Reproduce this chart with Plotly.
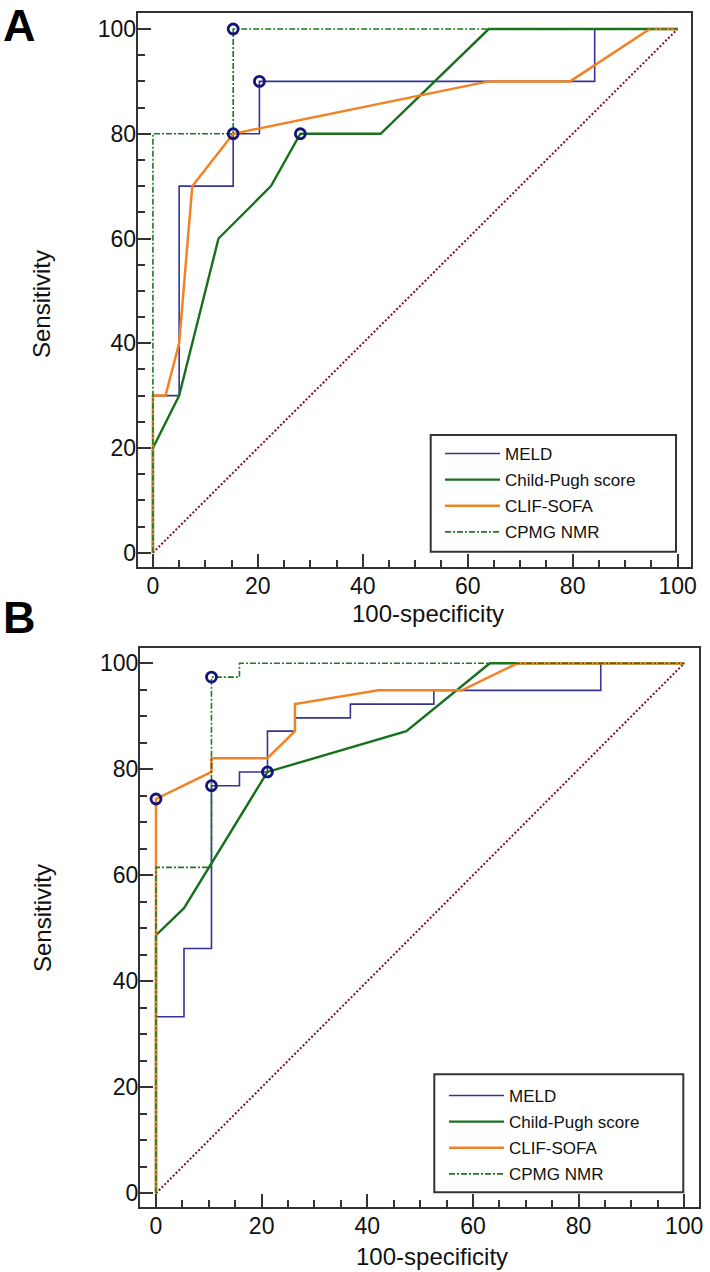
import plotly.graph_objects as go

W, H = 710, 1272

# ---------------- data (x = 100-specificity, y = sensitivity) ----------------
series_names = ["MELD", "Child-Pugh score", "CLIF-SOFA", "CPMG NMR"]

# Panel A
A_meld_x = [0, 0, 5.0, 15.3, 20.3, 84.2, 100]
A_meld_y = [0, 30, 70, 80, 90, 100, 100]
A_cp_x = [0, 0, 5.0, 12.5, 22.5, 28.1, 43.4, 64.0, 100]
A_cp_y = [0, 20, 30, 60, 70, 80, 80, 100, 100]
A_clif_x = [0, 0, 2.4, 5.0, 7.5, 15.3, 64.0, 79.5, 94.7, 100]
A_clif_y = [0, 30, 30, 40, 70, 80, 90, 90, 100, 100]
A_nmr_x = [0, 0, 15.3, 100]
A_nmr_y = [0, 80, 100, 100]
A_cut_x = [20.3, 28.1, 15.3, 15.3]   # optimal criterion points: MELD, CP, CLIF, NMR
A_cut_y = [90, 80, 80, 100]

# Panel B
B_meld_x = [0, 0, 5.3, 10.5, 15.8, 21.1, 26.3, 36.8, 52.6, 84.2, 100]
B_meld_y = [0, 33.3, 46.2, 76.9, 79.5, 87.2, 89.7, 92.3, 94.9, 100, 100]
B_cp_x = [0, 0, 5.3, 21.1, 47.4, 63.2, 100]
B_cp_y = [0, 48.7, 53.8, 79.5, 87.2, 100, 100]
B_clif_x = [0, 0, 10.5, 10.5, 21.1, 26.3, 26.3, 42.1, 57.9, 68.4, 100]
B_clif_y = [0, 74.4, 79.5, 82.1, 82.1, 87.2, 92.3, 94.9, 94.9, 100, 100]
B_nmr_x = [0, 0, 10.5, 15.8, 100]
B_nmr_y = [0, 61.5, 97.4, 100, 100]
B_cut_x = [10.5, 21.1, 0, 10.5]
B_cut_y = [76.9, 79.5, 74.4, 97.4]

ref_x = [0, 100]
ref_y = [0, 100]

tick_vals = [0, 20, 40, 60, 80, 100]
tick_text = ["0", "20", "40", "60", "80", "100"]

# ---------------- styles ----------------
FONT = "Arial, 'Liberation Sans', sans-serif"
C_MELD = "#343494"
C_CP = "#17701c"
C_CLIF = "#f28224"
C_NMR = "#1d7a1d"
C_MARK = "#14147a"
C_REF = "#7a1424"
AX = "#333333"

fig = go.Figure()


def add_panel(xa, ya, legend, mx, my, cx, cy, lx, ly, nx, ny, kx, ky):
    fig.add_trace(go.Scatter(x=ref_x, y=ref_y, mode="lines", xaxis=xa, yaxis=ya,
                             line=dict(color=C_REF, width=2, dash="2px,2px"),
                             showlegend=False, hoverinfo="skip"))
    fig.add_trace(go.Scatter(x=mx, y=my, mode="lines", name=series_names[0], xaxis=xa, yaxis=ya,
                             line=dict(color=C_MELD, width=1.6, shape="hv"), legend=legend,
                             legendgroup=legend + "a"))
    fig.add_trace(go.Scatter(x=cx, y=cy, mode="lines", name=series_names[1], xaxis=xa, yaxis=ya,
                             line=dict(color=C_CP, width=2.4), legend=legend,
                             legendgroup=legend + "b"))
    fig.add_trace(go.Scatter(x=lx, y=ly, mode="lines", name=series_names[2], xaxis=xa, yaxis=ya,
                             line=dict(color=C_CLIF, width=2.5), legend=legend,
                             legendgroup=legend + "c"))
    fig.add_trace(go.Scatter(x=nx, y=ny, mode="lines", name=series_names[3], xaxis=xa, yaxis=ya,
                             line=dict(color=C_NMR, width=1.6, shape="hv", dash="6px,2px,2px,2px"),
                             legend=legend, legendgroup=legend + "d"))
    fig.add_trace(go.Scatter(x=kx, y=ky, mode="markers", xaxis=xa, yaxis=ya,
                             marker=dict(symbol="circle-open", size=10, color=C_MARK,
                                         line=dict(color=C_MARK, width=2.8)),
                             showlegend=False, hoverinfo="skip"))


add_panel("x", "y", "legend", A_meld_x, A_meld_y, A_cp_x, A_cp_y, A_clif_x, A_clif_y,
          A_nmr_x, A_nmr_y, A_cut_x, A_cut_y)
add_panel("x2", "y2", "legend2", B_meld_x, B_meld_y, B_cp_x, B_cp_y, B_clif_x, B_clif_y,
          B_nmr_x, B_nmr_y, B_cut_x, B_cut_y)


def px_x(p):
    return p / W


def px_y(p):
    return 1 - p / H


def axis(rng, dom, anchor, standoff):
    return dict(range=rng, domain=dom, anchor=anchor, tickmode="array", tickvals=tick_vals,
                ticktext=tick_text, ticks="inside", ticklen=13, tickwidth=2, tickcolor=AX,
                minor=dict(dtick=5, tick0=0, ticks="inside", ticklen=7, tickwidth=2, tickcolor=AX),
                showgrid=False, zeroline=False, showline=True, linewidth=2, linecolor=AX,
                mirror=True, tickfont=dict(family=FONT, size=23, color="#111111"),
                automargin=False, ticklabelstandoff=standoff, fixedrange=True)


LEG_FONT = dict(family=FONT, size=17, color="#111111")
TITLE_FONT = dict(family=FONT, size=24, color="#111111")
PANEL_FONT = dict(family=FONT, size=45, color="black")

layout = dict(
    width=W, height=H, margin=dict(l=0, r=0, t=0, b=0, autoexpand=False),
    paper_bgcolor="white", plot_bgcolor="white",
    font=dict(family=FONT, color="#111111"),
    xaxis=axis([-2.9, 102.5], [px_x(137.7), px_x(690.7)], "y", -2),
    yaxis=axis([-2.67, 103.06], [px_y(566.7), px_y(13)], "x", -5),
    xaxis2=axis([-3.03, 102.8], [px_x(140), px_x(699)], "y2", -2),
    yaxis2=axis([-2.53, 102.83], [px_y(1206.7), px_y(648.3)], "x2", -5),
    legend=dict(x=px_x(440), y=px_y(436), xanchor="left", yanchor="top",
                bgcolor="rgba(0,0,0,0)", borderwidth=0, tracegroupgap=1, itemwidth=55,
                font=LEG_FONT),
    legend2=dict(x=px_x(444), y=px_y(1078), xanchor="left", yanchor="top",
                 bgcolor="rgba(0,0,0,0)", borderwidth=0, tracegroupgap=1, itemwidth=55,
                 font=LEG_FONT),
    shapes=[
        dict(type="rect", xref="paper", yref="paper", x0=px_x(430.7), x1=px_x(676),
             y0=px_y(551.7), y1=px_y(435), line=dict(color=AX, width=2), fillcolor="rgba(0,0,0,0)",
             layer="below"),
        dict(type="rect", xref="paper", yref="paper", x0=px_x(434.3), x1=px_x(683.3),
             y0=px_y(1192.3), y1=px_y(1074.3), line=dict(color=AX, width=2), fillcolor="rgba(0,0,0,0)",
             layer="below"),
    ],
    annotations=[
        dict(text="<b>A</b>", x=px_x(1), y=px_y(25), xref="paper", yref="paper", xanchor="left",
             yanchor="middle", height=44, valign="middle", showarrow=False, font=PANEL_FONT),
        dict(text="<b>B</b>", x=px_x(1), y=px_y(617), xref="paper", yref="paper", xanchor="left",
             yanchor="middle", height=44, valign="middle", showarrow=False, font=PANEL_FONT),
        dict(text="Sensitivity", x=px_x(42), y=px_y(304), xref="paper", yref="paper",
             xanchor="center", yanchor="middle", textangle=-90, showarrow=False, font=TITLE_FONT),
        dict(text="Sensitivity", x=px_x(42), y=px_y(918), xref="paper", yref="paper",
             xanchor="center", yanchor="middle", textangle=-90, showarrow=False, font=TITLE_FONT),
        dict(text="100-specificity", x=px_x(428), y=px_y(614), xref="paper", yref="paper",
             xanchor="center", yanchor="middle", showarrow=False, font=TITLE_FONT),
        dict(text="100-specificity", x=px_x(432), y=px_y(1256), xref="paper", yref="paper",
             xanchor="center", yanchor="middle", showarrow=False, font=TITLE_FONT),
    ],
)
fig.update_layout(**layout)

fig.write_html("out.html", config={"displayModeBar": False},
               post_script="document.body.style.margin='0';")
